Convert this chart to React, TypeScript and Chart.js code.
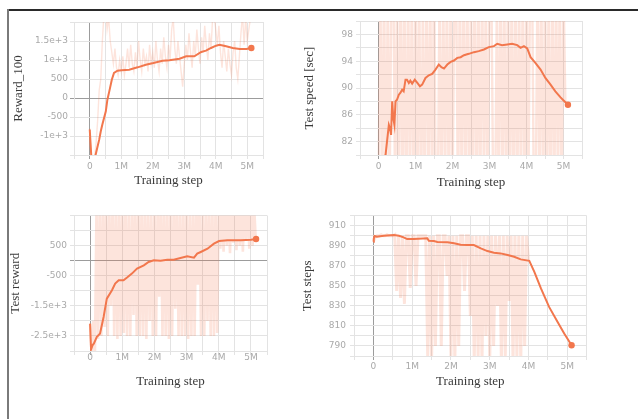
import React, { useEffect, useRef } from "react";
import { Chart, registerables } from "chart.js";

Chart.register(...registerables);

const ORANGE = "#f2774d";
const RAW = "rgba(246, 118, 78, 0.2)";
const GRID = "#e3e3e3";
const ZERO = "#9c9c9c";
const TICK = "#a9a9a9";
const TITLE = "#3a3a3a";

const xTickValues = [0, 1, 2, 3, 4, 5];
const xTickLabels = ["0", "1M", "2M", "3M", "4M", "5M"];
const xAxisTitle = "Training step";
const rawStepInterval = 0.05; // millions of training steps between raw samples

// ---------- Panel 1: Reward_100 ----------
const reward100Title = "Reward_100";
const reward100Steps = [0, 0.05, 0.12, 0.19, 0.3, 0.35, 0.4, 0.51, 0.56, 0.62, 0.7, 0.77, 0.88, 1.01, 1.25, 1.52, 1.78, 2.02, 2.31, 2.53, 2.85, 3.06, 3.32, 3.54, 3.69, 3.85, 4.01, 4.12, 4.33, 4.54, 4.76, 4.97, 5.13];
const reward100Smoothed = [-830, -1550, -1750, -1480, -1096, -877, -700, -350, -44, 175, 482, 658, 720, 728, 745, 807, 877, 921, 982, 991, 1035, 1096, 1096, 1210, 1245, 1316, 1377, 1403, 1360, 1316, 1289, 1289, 1316];
const reward100Raw = [
  -800, -1700, -1800, -1600, -1200, -600, 200, 500, 1500, 2200,
  2300, 1800, 2100, 1500, 1200, 900, 1300, 800, 600, 1000,
  700, 1100, 600, 900, 1300, 800, 1400, 900, 700, 1200,
  800, 1500, 1000, 700, 1300, 900, 1100, 700, 1400, 900,
  1200, 800, 1500, 1000, 700, 1300, 900, 1600, 1100, 800,
  1400, 1000, 1800, 2100, 1300, 900, 1500, 1100, 700, 300,
  900, 1400, 1000, 1700, 1200, 800, 1500, 1100, 1800, 1300,
  900, 1600, 1200, 1900, 1400, 1000, 1700, 1300, 2100, 2200,
  1800, 1400, 1900, 1200, 800, 1500, 1100, 700, 1300, 900,
  600, 1200, 1500, 800, 500, 1100, 1700, 2200, 1400, 2100,
  1500, 1800, 2100,
];
const reward100TickValues = [-1000, -500, 0, 500, 1000, 1500];
const reward100TickLabels = ["-1e+3", "-500", "0", "500", "1e+3", "1.5e+3"];

// ---------- Panel 2: Test speed [sec] ----------
const speedTitle = "Test speed [sec]";
const speedSteps = [0.1, 0.19, 0.23, 0.28, 0.31, 0.34, 0.37, 0.4, 0.43, 0.46, 0.5, 0.55, 0.59, 0.64, 0.68, 0.73, 0.77, 0.82, 0.86, 0.91, 0.98, 1.05, 1.12, 1.18, 1.27, 1.36, 1.45, 1.54, 1.63, 1.7, 1.77, 1.86, 1.95, 2.04, 2.13, 2.22, 2.31, 2.44, 2.58, 2.71, 2.85, 2.98, 3.12, 3.21, 3.34, 3.48, 3.61, 3.75, 3.84, 3.93, 4.02, 4.11, 4.24, 4.38, 4.51, 4.65, 4.78, 4.92, 5.01, 5.12];
const speedSmoothed = [77, 80, 82, 84.5, 84, 83, 88, 85.5, 84.5, 88, 88.25, 89, 89.25, 89.75, 89.5, 91.25, 91.25, 90.75, 91.1, 90.65, 91.25, 90.75, 90.25, 90.5, 91.5, 91.9, 92.1, 92.75, 93.5, 93.1, 92.9, 93.5, 93.9, 94.1, 94.5, 94.6, 94.9, 95.1, 95.35, 95.5, 95.75, 96.1, 96.25, 96.6, 96.4, 96.5, 96.6, 96.4, 96, 96.25, 95.9, 94.6, 93.75, 92.75, 91.5, 90.5, 89.5, 88.6, 88.1, 87.5];
const speedRaw = [
  74, 106, 72, 108, 70, 105, 73, 107, 108, 72,
  105, 71, 109, 72, 106, 70, 107, 74, 105, 71,
  108, 73, 106, 70, 104, 72, 107, 75, 105, 71,
  109, 73, 70, 106, 72, 105, 74, 107, 71, 106,
  73, 104, 105, 70, 108, 72, 106, 74, 107, 71,
  105, 73, 109, 70, 106, 72, 108, 75, 105, 71,
  107, 106, 73, 70, 104, 72, 108, 74, 105, 71,
  107, 73, 106, 70, 108, 72, 105, 74, 107, 71,
  106, 73, 109, 108, 72, 74, 108, 74, 106, 71,
  107, 73, 105, 70, 108, 72, 106, 74, 107, 71,
  105, 88, 87.5,
];
const speedTickValues = [82, 86, 90, 94, 98];
const speedTickLabels = ["82", "86", "90", "94", "98"];

// ---------- Panel 3: Test reward ----------
const testRewardTitle = "Test reward";
const testRewardSteps = [0, 0.03, 0.08, 0.12, 0.21, 0.26, 0.31, 0.42, 0.52, 0.68, 0.78, 0.89, 1.04, 1.15, 1.3, 1.46, 1.67, 1.82, 1.98, 2.19, 2.4, 2.6, 2.81, 3.02, 3.23, 3.33, 3.44, 3.65, 3.85, 4.01, 4.27, 4.69, 5.0, 5.16];
const testRewardSmoothed = [-2090, -2950, -2800, -2750, -2530, -2480, -2420, -1870, -1260, -980, -760, -650, -650, -560, -430, -265, -155, -44, 10, 0, 33, 30, 88, 144, 100, 232, 287, 398, 563, 652, 674, 674, 696, 718];
const testRewardRaw = [
  -2100, -3100, -2000, -3200, 1800, -2600, 2000, -2500, 1900, -2200,
  2100, -2500, 1700, -1500, 2000, -2500, 1800, -2600, 2000, -2500,
  1900, -2400, 2100, -2500, 1600, -2500, 2000, -1800, 1900, -2500,
  2100, -2500, 1800, -2500, 2000, -2600, 1900, -2000, 1700, -2500,
  2000, -2500, 1800, -1200, 2100, -2500, 1900, -2500, 2000, -2600,
  1800, -2500, 2100, -1600, 1900, -2500, 2000, -2500, 1800, -2500,
  2000, -2600, 1700, -2500, 2100, -2500, 1900, -800, 2000, -2500,
  1800, -2500, 2000, -2000, 1900, -2500, 2100, -2500, 1800, -2400,
  2000, 400, 1900, 300, 2100, 500, 1800, 250, 2000, 600,
  1900, 350, 2100, 500, 1800, 300, 2000, 700, 1900, 400,
  2000, 500, 1800, 700,
];
const testRewardTickValues = [-2500, -1500, -500, 500];
const testRewardTickLabels = ["-2.5e+3", "-1.5e+3", "-500", "500"];

// ---------- Panel 4: Test steps ----------
const testStepsTitle = "Test steps";
const testStepsSteps = [0, 0.01, 0.03, 0.09, 0.27, 0.53, 0.66, 0.78, 0.87, 1.04, 1.39, 1.43, 1.56, 1.65, 1.91, 2.08, 2.25, 2.41, 2.59, 2.77, 2.94, 3.11, 3.28, 3.46, 3.63, 3.8, 4.02, 4.15, 4.32, 4.53, 4.75, 4.92, 5.11];
const testStepsSmoothed = [894, 897, 899.7, 899, 900, 900.7, 900, 898.4, 896.7, 896.7, 897.4, 895, 894.7, 893.7, 893.4, 892.4, 891, 890.7, 890.7, 887.4, 884.7, 883, 882.4, 880.7, 879, 876.4, 875, 864, 847.4, 829, 814, 802.4, 790.7];
const testStepsRaw = [
  894, 899, 900, 900, 901, 900, 900, 901, 900, 900,
  900, 901, 845, 900, 838, 900, 832, 900, 900, 848,
  900, 900, 850, 900, 900, 900, 900, 900, 780, 900,
  775, 900, 790, 900, 900, 790, 900, 900, 860, 900,
  780, 900, 775, 900, 790, 900, 900, 845, 900, 900,
  820, 900, 775, 900, 780, 900, 775, 900, 800, 900,
  775, 900, 790, 900, 830, 900, 775, 900, 780, 900,
  835, 900, 775, 900, 780, 900, 775, 900, 790, 900,
  875,
];
const testStepsTickValues = [790, 810, 830, 850, 870, 890, 910];
const testStepsTickLabels = ["790", "810", "830", "850", "870", "890", "910"];

type Box = {
  left: number; top: number; width: number; height: number;
  yAxisWidth: number; xAxisHeight: number; padTop: number; padRight: number;
  yTitlePad: number; yTickPad: number; xTickPad: number; xTitlePad: number;
  rawWidth: number;
};

type PanelSpec = {
  yTitle: string;
  steps: number[];
  smoothed: number[];
  raw: number[];
  yMin: number; yMax: number; yStep: number;
  yTickValues: number[]; yTickLabels: string[];
  box: Box;
};

const panels: PanelSpec[] = [
  {
    yTitle: reward100Title, steps: reward100Steps, smoothed: reward100Smoothed, raw: reward100Raw,
    yMin: -1500, yMax: 2000, yStep: 500, yTickValues: reward100TickValues, yTickLabels: reward100TickLabels,
    box: { left: 0, top: 10, width: 270, height: 185, yAxisWidth: 74, xAxisHeight: 40, padTop: 12, padRight: 7, yTitlePad: 11, yTickPad: 2, xTickPad: 2, xTitlePad: 7, rawWidth: 1.4 },
  },
  {
    yTitle: speedTitle, steps: speedSteps, smoothed: speedSmoothed, raw: speedRaw,
    yMin: 80, yMax: 100, yStep: 2, yTickValues: speedTickValues, yTickLabels: speedTickLabels,
    box: { left: 300, top: 10, width: 290, height: 185, yAxisWidth: 60, xAxisHeight: 40, padTop: 11, padRight: 8, yTitlePad: 2, yTickPad: 3, xTickPad: 2, xTitlePad: 4.5, rawWidth: 2.4 },
  },
  {
    yTitle: testRewardTitle, steps: testRewardSteps, smoothed: testRewardSmoothed, raw: testRewardRaw,
    yMin: -3000, yMax: 1500, yStep: 500, yTickValues: testRewardTickValues, yTickLabels: testRewardTickLabels,
    box: { left: 0, top: 200, width: 275, height: 196, yAxisWidth: 74, xAxisHeight: 45, padTop: 15.5, padRight: 8, yTitlePad: 8, yTickPad: 3, xTickPad: -3, xTitlePad: 6.5, rawWidth: 2.6 },
  },
  {
    yTitle: testStepsTitle, steps: testStepsSteps, smoothed: testStepsSmoothed, raw: testStepsRaw,
    yMin: 780, yMax: 920, yStep: 10, yTickValues: testStepsTickValues, yTickLabels: testStepsTickLabels,
    box: { left: 300, top: 200, width: 295, height: 196, yAxisWidth: 54, xAxisHeight: 40, padTop: 15.7, padRight: 8.3, yTitlePad: 0, yTickPad: 4, xTickPad: 1.6, xTitlePad: 6.2, rawWidth: 3 },
  },
];

function labelFor(v: number, values: number[], labels: string[]): string {
  const i = values.findIndex((t) => Math.abs(t - v) < 1e-6);
  return i >= 0 ? labels[i] : "";
}

const tickFont = { family: "'DejaVu Sans', sans-serif", size: 9 };
const titleFont = { family: "'Liberation Serif', serif", size: 13 };

function Panel({ spec }: { spec: PanelSpec }) {
  const ref = useRef<HTMLCanvasElement | null>(null);
  const b = spec.box;
  useEffect(() => {
    if (!ref.current) return;
    const smoothData = spec.steps.map((x, i) => ({ x, y: spec.smoothed[i] }));
    const rawData = spec.raw.map((y, i) => ({ x: i * rawStepInterval, y }));
    const last = smoothData.length - 1;
    const gridColor = (ctx: any) => (ctx.tick && Math.abs(ctx.tick.value) < 1e-9 ? ZERO : GRID);
    const chart = new Chart(ref.current, {
      type: "line",
      data: {
        datasets: [
          {
            data: rawData, borderColor: RAW, borderWidth: b.rawWidth, pointRadius: 0,
            tension: 0, clip: 0, order: 2, fill: false,
          },
          {
            data: smoothData, borderColor: ORANGE, borderWidth: 2,
            pointRadius: (ctx: any) => (ctx.dataIndex === last ? 3.2 : 0),
            pointBackgroundColor: ORANGE, pointBorderColor: ORANGE, pointBorderWidth: 0,
            tension: 0, order: 1, fill: false,
          },
        ],
      } as any,
      options: {
        responsive: false,
        animation: false,
        devicePixelRatio: 1,
        events: [],
        layout: { padding: { top: b.padTop, right: b.padRight, left: 0, bottom: 0 } },
        plugins: { legend: { display: false }, tooltip: { enabled: false } },
        scales: {
          x: {
            type: "linear", min: -0.5, max: 5.5,
            ticks: {
              stepSize: 0.5, autoSkip: false, maxRotation: 0, minRotation: 0, maxTicksLimit: 100,
              padding: b.xTickPad, color: TICK, font: tickFont,
              callback: (v: any) => labelFor(Number(v), xTickValues, xTickLabels),
            },
            grid: { color: gridColor, tickLength: 4, lineWidth: 1 },
            border: { color: GRID },
            title: { display: true, text: xAxisTitle, color: TITLE, font: titleFont, padding: { top: 0, bottom: b.xTitlePad } },
            afterFit: (s: any) => { s.height = b.xAxisHeight; },
          },
          y: {
            type: "linear", min: spec.yMin, max: spec.yMax,
            ticks: {
              stepSize: spec.yStep, autoSkip: false, maxTicksLimit: 100,
              padding: b.yTickPad, color: TICK, font: tickFont,
              callback: (v: any) => labelFor(Number(v), spec.yTickValues, spec.yTickLabels),
            },
            grid: { color: gridColor, tickLength: 4, lineWidth: 1 },
            border: { color: GRID },
            title: { display: true, text: spec.yTitle, color: TITLE, font: titleFont, padding: { top: b.yTitlePad, bottom: 0 } },
            afterFit: (s: any) => { s.width = b.yAxisWidth; },
          },
        },
      } as any,
    });
    return () => chart.destroy();
  }, [spec]);
  return (
    <canvas
      ref={ref}
      width={b.width}
      height={b.height}
      style={{ position: "absolute", left: b.left, top: b.top, width: b.width, height: b.height }}
    />
  );
}

export default function App() {
  return (
    <div style={{ position: "fixed", left: 0, top: 0, width: 638, height: 419, background: "#ffffff", overflow: "hidden" }}>
      <div style={{ position: "absolute", left: 7, top: 9, width: 631, height: 2, background: "#2a2a2a" }} />
      <div style={{ position: "absolute", left: 7, top: 9, width: 2, height: 410, background: "#7a7a7a" }} />
      {panels.map((p, i) => (
        <Panel key={i} spec={p} />
      ))}
    </div>
  );
}
